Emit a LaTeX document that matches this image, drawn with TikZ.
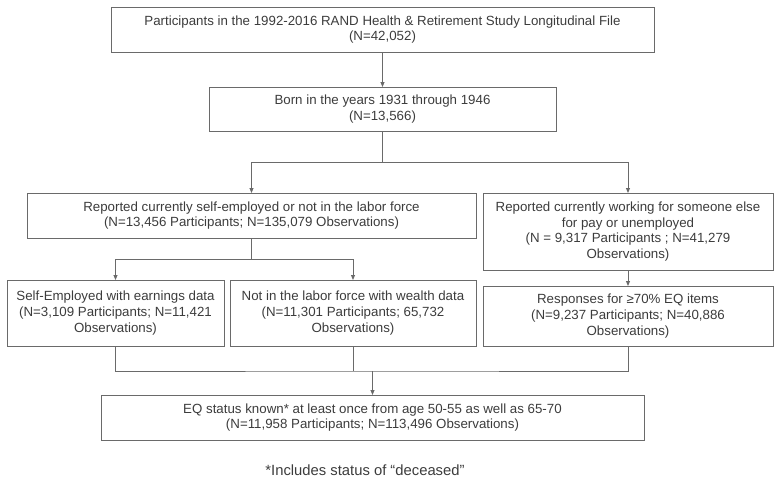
\documentclass[tikz,border=0pt]{standalone}
\usepackage{fontspec}
\setmainfont{Liberation Sans}
\usepackage{tikz}
\usetikzlibrary{arrows.meta}

\definecolor{boxline}{HTML}{6A6A6A}
\definecolor{boxtext}{HTML}{3C3C3C}

\begin{document}
\begin{tikzpicture}[
    x=1pt, y=-1pt,
    font=\fontsize{13.3}{15.8}\selectfont,
    text=boxtext,
    flowbox/.style={draw=boxline, line width=0.9pt, align=center,
      inner sep=0pt, outer sep=0pt},
    link/.style={draw=boxline, line width=0.9pt},
    arr/.style={link, -{Triangle[length=5pt, width=4pt]}},
  ]
  \useasboundingbox (0,0) rectangle (780,485);
  % boxes
  \node[flowbox, minimum width=543pt, minimum height=45pt] (all) at (382.5,29.5)
    {Participants in the 1992-2016 RAND Health \& Retirement Study Longitudinal File\\(N=42,052)};
  \node[flowbox, minimum width=347pt, minimum height=44pt] (born) at (382.5,109)
    {Born in the years 1931 through 1946\\(N=13,566)};
  \node[flowbox, minimum width=449pt, minimum height=45pt] (selfnilf) at (251.5,215.5)
    {Reported currently self-employed or not in the labor force\\(N=13,456 Participants; N=135,079 Observations)};
  \node[flowbox, minimum width=290pt, minimum height=77pt] (work) at (628,231.5)
    {Reported currently working for someone else\\for pay or unemployed\\(N = 9,317 Participants ; N=41,279\\Observations)};
  \node[flowbox, minimum width=217pt, minimum height=66pt] (selfemp) at (115.5,313)
    {Self-Employed with earnings data\\(N=3,109 Participants; N=11,421\\Observations)};
  \node[flowbox, minimum width=246pt, minimum height=66pt] (nilf) at (353,313)
    {Not in the labor force with wealth data\\(N=11,301 Participants; 65,732\\Observations)};
  \node[flowbox, minimum width=290pt, minimum height=60pt] (resp) at (628,316)
    {Responses for ≥70\% EQ items\\(N=9,237 Participants; N=40,886\\Observations)};
  \node[flowbox, minimum width=543pt, minimum height=45pt] (eq) at (372.5,417.5)
    {EQ status known* at least once from age 50-55 as well as 65-70\\(N=11,958 Participants; N=113,496 Observations)};
  \node[font=\fontsize{14.8}{17}\selectfont] (note) at (365,470) {*Includes status of “deceased”};

  \coordinate (split) at (382.5,162);
  \coordinate (split2) at (251.5,259);
  \coordinate (merge) at (372.5,371);

  % connectors
  \draw[arr] (all) -- (born);
  \draw[link] (born) -- (split);
  \draw[arr] (split) -| (selfnilf.north);
  \draw[arr] (split) -| (work.north);
  \draw[link] (selfnilf) -- (split2);
  \draw[arr] (split2) -| (selfemp.north);
  \draw[arr] (split2) -| (nilf.north);
  \draw[arr] (work) -- (resp);
  \draw[link] (selfemp.south) |- (merge) -| (resp.south);
  \draw[link] (nilf.south) -- (nilf.south |- merge);
  \draw[arr] (merge) -- (eq);
\end{tikzpicture}
\end{document}
